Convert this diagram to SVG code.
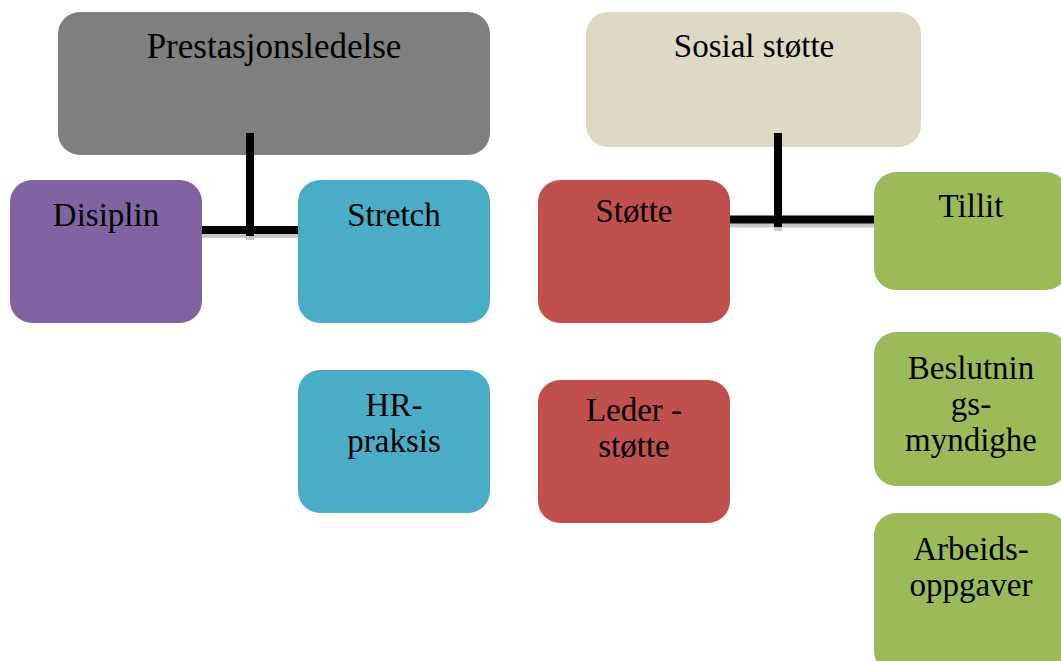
<svg xmlns="http://www.w3.org/2000/svg" width="1061" height="661" viewBox="0 0 1061 661">
<style>
text{font-family:"Liberation Serif","Times New Roman",serif;font-size:33px;fill:#000;text-anchor:middle}
.big{font-size:35px}
.sh{fill:none;stroke:#c8c8c8;stroke-width:8}
.ln{fill:none;stroke:#000;stroke-width:8}
</style>
<rect width="1061" height="661" fill="#fff"/>
<g id="prestasjonsledelse"><rect x="58" y="12" width="432" height="143" rx="22" fill="#7f7f7f"/><text class="big" x="274" y="58">Prestasjonsledelse</text></g>
<g id="sosial"><rect x="586" y="12" width="335" height="135" rx="22" fill="#ddd9c3"/><text x="754" y="57">Sosial støtte</text></g>
<g id="disiplin"><rect x="10" y="180" width="192" height="143" rx="22" fill="#8064a2"/><text x="106" y="226">Disiplin</text></g>
<g id="stretch"><rect x="298" y="180" width="192" height="143" rx="22" fill="#4bacc6"/><text x="394" y="226">Stretch</text></g>
<g id="hr"><rect x="298" y="370" width="192" height="143" rx="22" fill="#4bacc6"/><text x="394" y="416">HR-</text><text x="394" y="452">praksis</text></g>
<g id="stotte"><rect x="538" y="180" width="192" height="143" rx="22" fill="#c0504d"/><text x="634" y="222">Støtte</text></g>
<g id="lederstotte"><rect x="538" y="380" width="192" height="143" rx="22" fill="#c0504d"/><text x="634" y="421">Leder -</text><text x="634" y="457">støtte</text></g>
<g id="tillit"><rect x="874" y="172" width="194" height="118" rx="22" fill="#9bbb59"/><text x="971" y="217">Tillit</text></g>
<g id="beslutning"><rect x="874" y="332" width="194" height="154" rx="22" fill="#9bbb59"/><text x="971" y="379">Beslutnin</text><text x="971" y="415">gs-</text><text x="971" y="451">myndighe</text></g>
<g id="arbeid"><rect x="874" y="513" width="194" height="160" rx="22" fill="#9bbb59"/><text x="971" y="560">Arbeids-</text><text x="971" y="596">oppgaver</text></g>
<g id="connectors">
<path class="sh" d="M250 137V240M202 234H298"/>
<path class="ln" d="M250 133V236M202 230H298"/>
<path class="sh" d="M778 137V231M730 223.5H874"/>
<path class="ln" d="M778 133V227M730 219.5H874"/>
</g>
</svg>
